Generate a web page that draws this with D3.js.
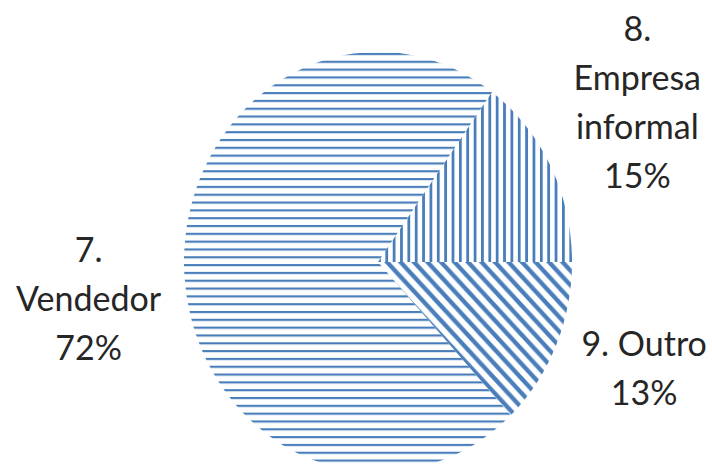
<!DOCTYPE html>
<html>
<head>
<meta charset="utf-8">
<script src="https://cdn.jsdelivr.net/npm/d3@7"></script>
<style>
  html, body { margin: 0; padding: 0; background: #fff; }
  svg { display: block; }
</style>
</head>
<body>
<div id="chart"></div>
<script>
// data
var categories = ["7. Vendedor", "8. Empresa informal", "9. Outro"];
var values = [72, 15, 13];
var labelLines = [["7.", "Vendedor", "72%"], ["8.", "Empresa", "informal", "15%"], ["9. Outro", "13%"]];
var patterns = ["hlines", "vlines", "diag"];

var width = 712, height = 464;
var cx = 378, cy = 262, r = 194, sy = 1.083;
var blue = "#4a7ebb";

var svg = d3.select("#chart").append("svg")
    .attr("width", width)
    .attr("height", height);

var defs = svg.append("defs");

// horizontal lines
var ph = defs.append("pattern")
    .attr("id", "hlines")
    .attr("patternUnits", "userSpaceOnUse")
    .attr("x", 0).attr("y", 1.9)
    .attr("width", 10).attr("height", 7.22);
ph.append("rect").attr("x", 0).attr("y", 0).attr("width", 10).attr("height", 2).attr("fill", blue);

// vertical lines
var pv = defs.append("pattern")
    .attr("id", "vlines")
    .attr("patternUnits", "userSpaceOnUse")
    .attr("x", 0).attr("y", 0)
    .attr("width", 7.36).attr("height", 10);
pv.append("rect").attr("x", 0).attr("y", 0).attr("width", 2.8).attr("height", 10).attr("fill", blue);

// wide downward diagonal
var s = 13.5;
var pd = defs.append("pattern")
    .attr("id", "diag")
    .attr("patternUnits", "userSpaceOnUse")
    .attr("x", 9).attr("y", 0)
    .attr("width", s).attr("height", s);
pd.append("path")
    .attr("d", "M-2,-2L" + (s + 2) + "," + (s + 2) + "M-2," + (s - 2) + "L2," + (s + 2) + "M" + (s - 2) + ",-2L" + (s + 2) + ",2")
    .attr("stroke", blue)
    .attr("stroke-width", 4.2)
    .attr("fill", "none");

var data = categories.map(function(c, i) {
  return {name: c, value: values[i], lines: labelLines[i], pattern: patterns[i]};
});

// Outro should start at 3 o'clock, going clockwise
var total = d3.sum(values);
var start = Math.PI / 2 - 2 * Math.PI * (total - values[2]) / total;

var pie = d3.pie()
    .sort(null)
    .value(function(d) { return d.value; })
    .startAngle(start)
    .endAngle(start + 2 * Math.PI);

var arc = d3.arc().innerRadius(0).outerRadius(r);

var arcs = pie(data);

var g = svg.append("g")
    .attr("transform", "translate(" + cx + "," + cy + ") scale(1," + sy + ")");

g.selectAll("path.slice")
    .data(arcs)
  .enter().append("path")
    .attr("class", "slice")
    .attr("d", arc)
    .attr("fill", function(d) { return "url(#" + d.data.pattern + ")"; });

// labels outside the pie
var labelR = [290, 300, 290];
var nudge = [[0, 17], [-8, -12], [0, -18]];
var fontSize = 34, lineH = 49;

var labels = svg.append("g")
    .attr("font-family", "Lato, 'Open Sans', sans-serif")
    .attr("font-size", fontSize)
    .attr("fill", "#262626")
    .attr("text-anchor", "middle");

arcs.forEach(function(a, i) {
  var mid = (a.startAngle + a.endAngle) / 2;
  var x = cx + labelR[i] * Math.sin(mid) + nudge[i][0];
  var y = cy - labelR[i] * Math.cos(mid) * sy + nudge[i][1];
  var n = a.data.lines.length;
  var t = labels.append("text")
      .attr("x", x)
      .attr("y", y - (n - 1) * lineH / 2 + fontSize * 0.36);
  a.data.lines.forEach(function(line, j) {
    t.append("tspan")
        .attr("x", x)
        .attr("dy", j == 0 ? 0 : lineH)
        .text(line);
  });
});
</script>
</body>
</html>
